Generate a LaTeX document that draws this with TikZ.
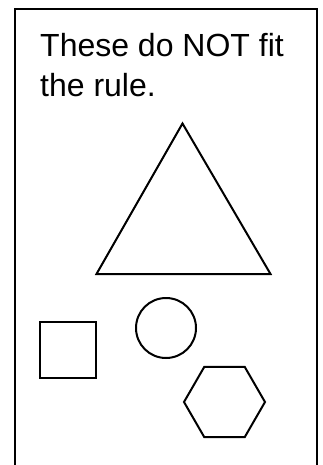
\documentclass[tikz,border=0pt]{standalone}
\usepackage{fontspec}
\setmainfont{Liberation Sans}
\usetikzlibrary{positioning}

\tikzset{
  shapeline/.style={draw=black,line width=2pt,line join=miter},
  rulefont/.style={font=\fontsize{32}{40}\selectfont,inner sep=0pt,anchor=base west}
}

\begin{document}
\begin{tikzpicture}[x=1pt,y=-1pt]
\useasboundingbox (0,0) rectangle (323,465);
% frame, open at the bottom
\draw[shapeline] (15,465) -- (15,9) -- (317,9) -- (317,465);
% heading
\node[rulefont] (line1) at (40,56.7) {These do NOT fit};
\node[rulefont] (line2) at (40,96.7) {the rule.};
% triangle
\draw[shapeline] (182.5,123.5) -- (270.5,274) -- (96.5,274) -- cycle;
% square
\draw[shapeline] (40,322) rectangle (96,378);
% circle
\draw[shapeline] (166,328) circle (30);
% hexagon
\draw[shapeline] (224.5,402) +(0:40.5) -- +(60:40.5) -- +(120:40.5)
  -- +(180:40.5) -- +(240:40.5) -- +(300:40.5) -- cycle;
\end{tikzpicture}
\end{document}
